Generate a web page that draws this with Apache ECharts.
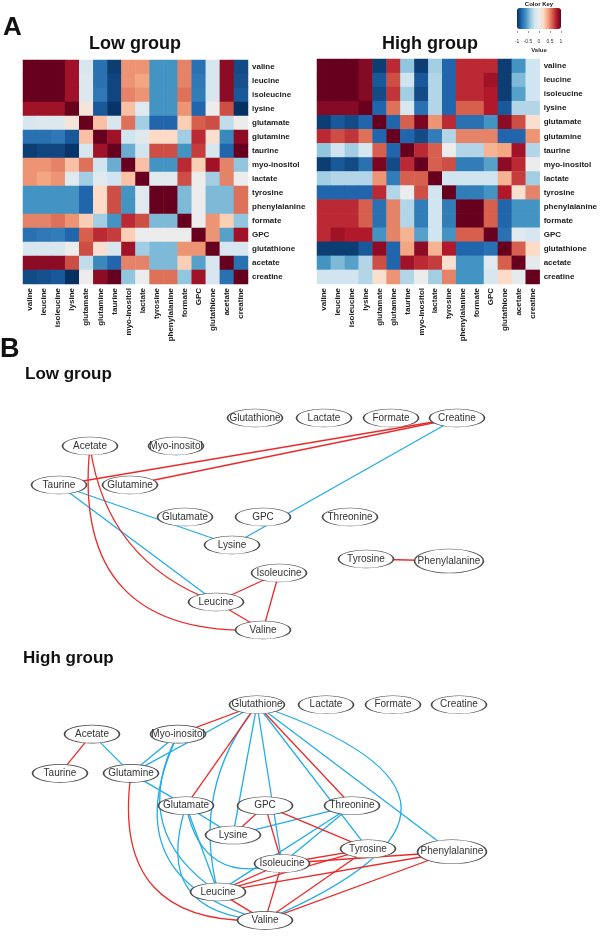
<!DOCTYPE html>
<html><head><meta charset="utf-8">
<script src="https://cdn.jsdelivr.net/npm/echarts@6/dist/echarts.min.js"></script>
<style>html,body{margin:0;padding:0;background:#fff}#c{width:600px;height:937px}</style>
</head><body><div id="c"></div>
<script>
// ---------- DATA ----------
const metabolites = ['valine','leucine','isoleucine','lysine','glutamate','glutamine','taurine','myo-inositol','lactate','tyrosine','phenylalanine','formate','GPC','glutathione','acetate','creatine'];

const lowCorr = [
 [1,1,1,0.85,-0.15,-0.75,-0.95,0.45,0.45,-0.6,-0.6,0.5,-0.75,-0.15,0.9,-0.9],
 [1,1,1,0.85,-0.12,-0.75,-0.92,0.45,0.4,-0.6,-0.6,0.5,-0.72,-0.15,0.9,-0.88],
 [1,1,1,0.85,-0.12,-0.72,-0.92,0.5,0.45,-0.6,-0.6,0.55,-0.7,-0.15,0.9,-0.85],
 [0.85,0.85,0.85,1,0.1,-0.85,-0.98,0.3,-0.1,-0.6,-0.6,0.45,-0.8,0.0,0.65,-1],
 [-0.15,-0.12,-0.12,0.1,1,0.3,-0.15,0.55,-0.35,-0.8,-0.8,0.25,0.6,0.65,-0.25,0.0],
 [-0.75,-0.75,-0.72,-0.85,0.3,1,0.85,-0.2,-0.1,0.2,0.2,-0.35,0.75,0.15,-0.65,0.9],
 [-0.95,-0.92,-0.92,-0.98,-0.15,0.85,1,-0.5,-0.2,0.65,0.65,-0.6,0.7,-0.15,-0.8,1],
 [0.45,0.45,0.5,0.3,0.55,-0.2,-0.5,1,0.3,-0.6,-0.6,0.75,0.25,0.85,0.5,-0.4],
 [0.45,0.4,0.45,-0.1,-0.35,-0.1,-0.2,0.3,1,-0.1,-0.1,0.65,0.0,-0.35,0.5,0.0],
 [-0.6,-0.6,-0.6,-0.6,-0.8,0.2,0.65,-0.6,-0.1,1,1,-0.45,0.0,-0.45,-0.45,0.55],
 [-0.6,-0.6,-0.6,-0.6,-0.8,0.2,0.65,-0.6,-0.1,1,1,-0.45,0.0,-0.45,-0.45,0.55],
 [0.5,0.5,0.55,0.45,0.25,-0.35,-0.6,0.75,0.65,-0.45,-0.45,1,0.0,0.45,0.25,-0.4],
 [-0.75,-0.72,-0.7,-0.8,0.6,0.75,0.7,0.25,0.0,0.0,0.0,0.0,1,0.45,-0.55,0.85],
 [-0.15,-0.15,-0.15,0.0,0.65,0.15,-0.15,0.85,-0.35,-0.45,-0.45,0.45,0.45,1,-0.15,-0.15],
 [0.9,0.9,0.9,0.65,-0.25,-0.65,-0.8,0.5,0.5,-0.45,-0.45,0.25,-0.55,-0.15,1,-0.75],
 [-0.9,-0.88,-0.85,-1,0.0,0.9,1,-0.4,0.0,0.55,0.55,-0.4,0.85,-0.15,-0.75,1]
];

const highCorr = [
 [1,1,1,0.92,-0.95,0.75,-0.4,-0.95,-0.35,-0.8,0.75,0.75,0.75,-0.95,-0.6,-0.2],
 [1,1,1,0.92,-0.85,0.65,-0.2,-0.85,-0.3,-0.8,0.75,0.75,0.85,-0.95,-0.45,-0.2],
 [1,1,1,0.92,-0.9,0.72,-0.35,-0.9,-0.3,-0.8,0.75,0.75,0.8,-0.95,-0.55,-0.2],
 [0.92,0.92,0.92,1,-0.8,0.55,-0.15,-0.75,-0.3,-0.8,0.6,0.6,0.8,-0.85,-0.3,-0.3],
 [-0.95,-0.85,-0.9,-0.8,1,-0.8,0.6,0.95,0.45,0.75,-0.75,-0.75,-0.6,0.9,0.65,0.15],
 [0.75,0.65,0.72,0.55,-0.8,1,-0.8,-0.9,-0.7,-0.3,0.5,0.5,0.5,-0.8,-0.8,0.45],
 [-0.4,-0.2,-0.35,-0.15,0.6,-0.8,1,0.75,0.6,0.0,-0.3,-0.3,0.35,0.4,0.85,-0.3],
 [-0.95,-0.85,-0.9,-0.75,0.95,-0.9,0.75,1,0.6,0.65,-0.7,-0.7,-0.55,0.9,0.75,0.0],
 [-0.35,-0.3,-0.3,-0.3,0.45,-0.7,0.6,0.6,1,-0.2,-0.2,-0.2,-0.2,0.35,0.7,-0.35],
 [-0.8,-0.8,-0.8,-0.8,0.75,-0.3,0.0,0.65,-0.2,1,-0.7,-0.7,-0.6,0.8,0.15,0.5],
 [0.75,0.75,0.75,0.6,-0.75,0.5,-0.3,-0.7,-0.2,-0.7,1,1,0.6,-0.8,-0.6,-0.6],
 [0.75,0.75,0.75,0.6,-0.75,0.5,-0.3,-0.7,-0.2,-0.7,1,1,0.6,-0.8,-0.6,-0.6],
 [0.75,0.85,0.8,0.8,-0.6,0.5,0.35,-0.55,-0.2,-0.6,0.6,0.6,1,-0.75,-0.1,-0.15],
 [-0.95,-0.95,-0.95,-0.85,0.9,-0.8,0.4,0.9,0.35,0.8,-0.8,-0.8,-0.75,1,0.6,0.2],
 [-0.6,-0.45,-0.55,-0.3,0.65,-0.8,0.85,0.75,0.7,0.15,-0.6,-0.6,-0.1,0.6,1,-0.05],
 [-0.2,-0.2,-0.2,-0.3,0.15,0.45,-0.3,0.0,-0.35,0.5,-0.6,-0.6,-0.15,0.2,-0.05,1]
];

const keyTicks = [-1, -0.5, 0, 0.5, 1];

// network node layout (layout units)
const lowLayout = {
 'Glutathione':[255,13],'Lactate':[324,13],'Formate':[391,13],'Creatine':[457,13],
 'Acetate':[90,41],'Myo-inositol':[176,41],'Taurine':[59,80],'Glutamine':[130,80],
 'Glutamate':[185,112],'GPC':[263,112],'Threonine':[350,112],'Lysine':[232,140],
 'Tyrosine':[366,154],'Phenylalanine':[449,156],'Isoleucine':[279,168],'Leucine':[216,197],'Valine':[263,225]
};
const highLayout = {
 'Glutathione':[257,13],'Lactate':[326,13],'Formate':[393,13],'Creatine':[459,13],
 'Acetate':[92,43],'Myo-inositol':[178,43],'Taurine':[60,83],'Glutamine':[131,83],
 'Glutamate':[186,116],'GPC':[265,116],'Threonine':[352,116],'Lysine':[233,146],
 'Tyrosine':[368,160],'Phenylalanine':[452,163],'Isoleucine':[282,175],'Leucine':[218,204],'Valine':[265,233]
};

// edges: [source, target, curveness]
const lowPositive = [
 ['Creatine','Taurine',0],['Creatine','Glutamine',0],['Acetate','Leucine',-0.3],['Acetate','Valine',-0.58],
 ['Leucine','Isoleucine',0],['Isoleucine','Valine',0],['Leucine','Valine',0],['Tyrosine','Phenylalanine',0]
];
const lowNegative = [
 ['Creatine','Lysine',0],['Taurine','Lysine',0],['Taurine','Leucine',0]
];
const highPositive = [
 ['Glutathione','Myo-inositol',0],['Glutathione','Glutamate',0],['Glutathione','Threonine',0],['Acetate','Taurine',0],
 ['Glutamine','Valine',-0.6],['GPC','Lysine',0],['GPC','Isoleucine',0],['GPC','Tyrosine',0],
 ['Tyrosine','Isoleucine',0],['Tyrosine','Leucine',0],['Tyrosine','Valine',0],
 ['Phenylalanine','Isoleucine',0],['Phenylalanine','Leucine',0],['Phenylalanine','Valine',0],
 ['Isoleucine','Leucine',0],['Isoleucine','Valine',0],['Leucine','Valine',0]
];
const highNegative = [
 ['Glutathione','Glutamine',0],['Glutathione','Lysine',0],['Glutathione','Leucine',-0.25],['Glutathione','Isoleucine',0],
 ['Glutathione','Tyrosine',0],['Glutathione','Phenylalanine',0],['Glutathione','Valine',1.3],
 ['Myo-inositol','Glutamine',0],['Myo-inositol','Valine',-0.6],['Myo-inositol','Leucine',-0.45],
 ['Acetate','Glutamine',0],['Glutamine','Glutamate',0],['Glutamate','Lysine',0],['Glutamate','Leucine',0],
 ['Glutamate','Valine',-0.65],['Glutamate','Isoleucine',-0.55],
 ['Threonine','Lysine',0],['Threonine','Isoleucine',0],['Threonine','Leucine',0]
];

// ---------- STYLE / BUILD ----------
const FONT = '"Liberation Sans", Arial, sans-serif';
const RED = '#ec2a2a', BLUE = '#22ade6';
const rdbu = ['#053061','#2166ac','#4393c3','#92c5de','#d1e5f0','#ececec','#fddbc7','#f4a582','#d6604d','#b2182b','#67001f'];

function heatData(m){
  const out = [];
  m.forEach((row,i)=>row.forEach((v,j)=>out.push([j,i,v])));
  return out;
}
function nodes(layout){
  return Object.keys(layout).map(n=>({
    name:n, value:layout[n],
    symbolSize: n==='Phenylalanine' ? [69,24] : [55,18]
  }));
}
function links(pos, neg){
  const mk = (e,c)=>({source:e[0], target:e[1], lineStyle:{color:c, curveness:e[2], width:1.3, opacity:1}});
  return neg.map(e=>mk(e,BLUE)).concat(pos.map(e=>mk(e,RED)));
}
const labStyle = {fontFamily:FONT, fontWeight:'bold', fontSize:8, color:'#1a1a1a'};
function heatX(gi){return {type:'category', gridIndex:gi, data:metabolites, position:'bottom',
  axisLine:{show:false}, axisTick:{show:false}, splitLine:{show:false},
  axisLabel:Object.assign({rotate:90, margin:4, interval:0}, labStyle)};}
function heatY(gi){return {type:'category', gridIndex:gi, data:metabolites, inverse:true, position:'right',
  axisLine:{show:false}, axisTick:{show:false}, splitLine:{show:false},
  axisLabel:Object.assign({margin:4, interval:0}, labStyle)};}
function netX(gi){return {type:'value', gridIndex:gi, min:0, max:600, show:false};}
function netY(gi){return {type:'value', gridIndex:gi, min:0, max:250, inverse:true, show:false};}
function graphSeries(idx, layout, pos, neg){
  return {type:'graph', layout:'none', coordinateSystem:'cartesian2d', xAxisIndex:idx, yAxisIndex:idx,
    symbol:'circle', data:nodes(layout), links:links(pos,neg), silent:true,
    itemStyle:{color:'#fff', borderColor:'#4a4a4a', borderWidth:1},
    label:{show:true, position:'inside', fontFamily:FONT, fontSize:10, color:'#333'},
    lineStyle:{width:1.3, opacity:1}, emphasis:{disabled:true}};
}
function txt(x,y,text,size,weight,align){
  return {type:'text', x:x, y:y, silent:true, style:{text:text, font:(weight||'bold')+' '+size+'px '+FONT,
    fill:'#111', textAlign:align||'left', textVerticalAlign:'middle'}};
}

const chart = echarts.init(document.getElementById('c'), null, {renderer:'canvas'});
chart.setOption({
  animation:false,
  backgroundColor:'#fff',
  grid:[
    {left:23, top:60, width:225, height:224},
    {left:317, top:59, width:226, height:225},
    {left:0, top:405, width:600, height:250},
    {left:0, top:692, width:600, height:250},
    {left:517, top:30, width:44, height:1}
  ],
  xAxis:[heatX(0), heatX(1), netX(2), netX(3),
    {type:'value', gridIndex:4, min:keyTicks[0], max:keyTicks[keyTicks.length-1], interval:0.5,
     axisLine:{show:false}, splitLine:{show:false},
     axisTick:{show:true, length:2, lineStyle:{color:'#555', width:0.6}},
     axisLabel:{fontFamily:FONT, fontSize:5, color:'#333', margin:8},
     name:'Value', nameLocation:'middle', nameGap:16, nameTextStyle:{fontFamily:FONT, fontSize:6, fontWeight:'bold', color:'#333'}}
  ],
  yAxis:[heatY(0), heatY(1), netY(2), netY(3), {type:'value', gridIndex:4, show:false}],
  visualMap:{type:'continuous', min:-1, max:1, seriesIndex:[0,1], orient:'horizontal',
    left:517, top:8, itemWidth:21, itemHeight:44, padding:0, calculable:false, hoverLink:false,
    inRange:{color:rdbu}, textStyle:{fontSize:1, color:'rgba(0,0,0,0)'}, text:['','']},
  series:[
    {type:'heatmap', xAxisIndex:0, yAxisIndex:0, data:heatData(lowCorr), silent:true, itemStyle:{borderWidth:0}},
    {type:'heatmap', xAxisIndex:1, yAxisIndex:1, data:heatData(highCorr), silent:true, itemStyle:{borderWidth:0}},
    graphSeries(2, lowLayout, lowPositive, lowNegative),
    graphSeries(3, highLayout, highPositive, highNegative)
  ],
  graphic:[
    txt(3, 28, 'A', 26),
    txt(135, 44, 'Low group', 18, 'bold', 'center'),
    txt(430, 44, 'High group', 18, 'bold', 'center'),
    txt(539, 4, 'Color Key', 6, 'bold', 'center'),
    txt(0, 350, 'B', 27),
    txt(25, 374, 'Low group', 17),
    txt(23, 658, 'High group', 17)
  ]
});
</script></body></html>
